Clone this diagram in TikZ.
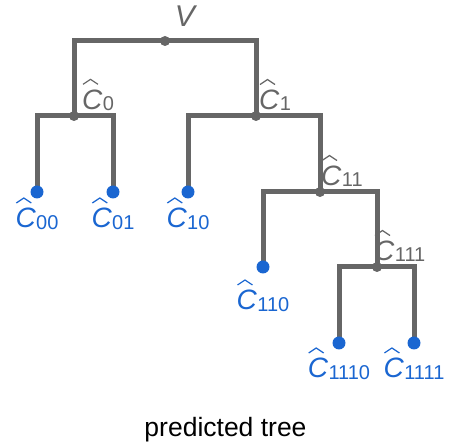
\documentclass[tikz,border=0pt]{standalone}
\usepackage{fontspec}
\setmainfont{Liberation Sans}
\definecolor{treegray}{HTML}{666666}
\definecolor{leafblue}{HTML}{1A66D1}
% C with a sans subscript, the hat is drawn on top later
\newcommand{\csub}[1]{{\itshape C}\kern0.5pt\raisebox{-1.5pt}{\fontsize{20}{20}\selectfont #1}}
\tikzset{
  branch/.style={draw=treegray, line width=5pt},
  split/.style={circle, fill=treegray, inner sep=0pt, minimum size=10pt},
  leaf/.style={circle, fill=leafblue, inner sep=0pt, minimum size=13pt},
  splitlbl/.style={text=treegray, inner sep=0pt, anchor=south west, font=\fontsize{28}{28}\selectfont},
  leaflbl/.style={text=leafblue, inner sep=0pt, anchor=north, font=\fontsize{28}{28}\selectfont},
  hat/.style={line width=1.2pt, line join=miter},
}
\begin{document}
\begin{tikzpicture}[x=1pt,y=-1pt]
    \useasboundingbox (0,0) rectangle (451,443);
    % split points
    \coordinate (v) at (165,41);
    \coordinate (c0) at (74,116);
    \coordinate (c1) at (256,116);
    \coordinate (c11) at (320,192);
    \coordinate (c111) at (377,267);
    % leaves
    \coordinate (c00) at (37,192);
    \coordinate (c01) at (113,192);
    \coordinate (c10) at (188,192);
    \coordinate (c110) at (263,267);
    \coordinate (c1110) at (339,343);
    \coordinate (c1111) at (414,343);

    % split labels sit under the branches
    \node[splitlbl, anchor=center, font=\fontsize{30}{30}\selectfont] (lv) at (185,16) {\itshape V};
    \node[splitlbl, xshift=8pt, yshift=5pt] (l0) at (c0) {\csub{0}};
    \node[splitlbl, xshift=3pt, yshift=5pt] (l1) at (c1) {\csub{1}};
    \node[splitlbl, xshift=1pt, yshift=5pt] (l11) at (c11) {\csub{11}};
    \node[splitlbl, xshift=-3pt, yshift=5pt] (l111) at (c111) {\csub{111}};
    \foreach \l in {l0,l1,l11,l111}
        \draw[hat, treegray] ([xshift=1pt,yshift=5pt]\l.north west) -- ++(7.5,-5) -- ++(7.5,5);

    \foreach \a/\b in {v/c0,v/c1,c0/c00,c0/c01,c1/c10,c1/c11,c11/c110,c11/c111,c111/c1110,c111/c1111}
        \draw[branch] (\a) -| (\b);

    \foreach \p in {v,c0,c1,c11,c111}
        \node[split] at (\p) {};
    \foreach \p in {c00,c01,c10,c110,c1110,c1111}
        \node[leaf] at (\p) {};

    % leaf labels
    \node[leaflbl, yshift=-16pt] (l00) at (c00) {\csub{00}};
    \node[leaflbl, yshift=-16pt] (l01) at (c01) {\csub{01}};
    \node[leaflbl, yshift=-16pt] (l10) at (c10) {\csub{10}};
    \node[leaflbl, yshift=-23pt] (l110) at (c110) {\csub{110}};
    \node[leaflbl, yshift=-15pt] (l1110) at (c1110) {\csub{1110}};
    \node[leaflbl, yshift=-15pt] (l1111) at (c1111) {\csub{1111}};
    \foreach \l in {l00,l01,l10,l110,l1110,l1111}
        \draw[hat, leafblue] ([xshift=1pt,yshift=5pt]\l.north west) -- ++(7.5,-5) -- ++(7.5,5);

    \node[anchor=base, inner sep=0pt, font=\fontsize{26.5}{30}\selectfont] (title) at (225.5,437) {predicted tree};
\end{tikzpicture}
\end{document}
